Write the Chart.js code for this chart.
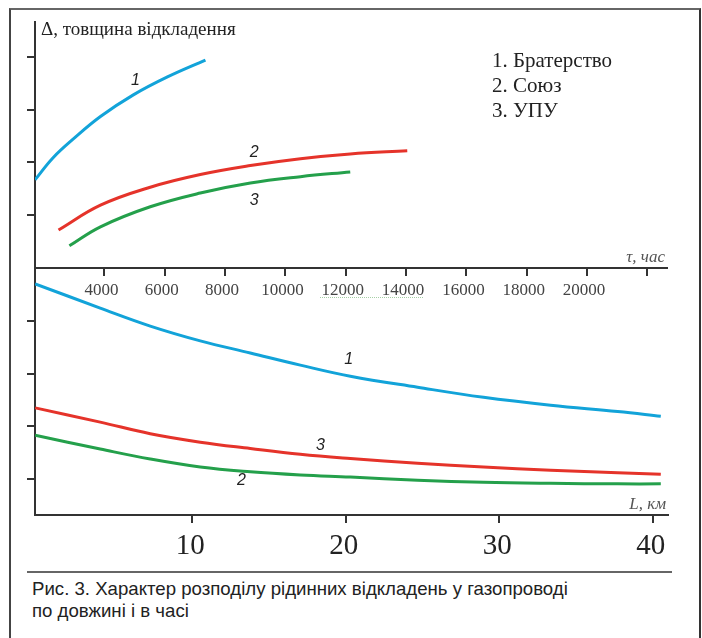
<!DOCTYPE html>
<html lang="uk">
<head>
<meta charset="utf-8">
<title>Рис. 3</title>
<script src="https://cdn.jsdelivr.net/npm/chart.js@4.4.1/dist/chart.umd.min.js"></script>
<style>
    body { margin: 0; background: #fff; }
    #wrap { position: relative; width: 702px; height: 638px; overflow: hidden; background: #fff; }
    #frame {
        position: absolute; left: 9px; top: 8px; width: 688px; height: 700px;
        border-top: 2px solid #666; border-left: 2px solid #444; border-right: 2px solid #333;
    }
    #sep { position: absolute; left: 27px; top: 571px; width: 645px; height: 2px; background: #666; }
    #squiggle { position: absolute; left: 320px; top: 297px; width: 103px; height: 0; border-bottom: 1px dotted #a6cfa6; }
    #caption {
        position: absolute; left: 32px; top: 578px;
        font-family: 'Liberation Sans', Arial, sans-serif;
        font-size: 19px; line-height: 22px; color: #222;
        white-space: nowrap;
        transform: scaleX(0.98); transform-origin: left top;
    }
    canvas { position: absolute; left: 0; }
    #topChart { top: 0; }
    #bottomChart { top: 250px; }
</style>
</head>
<body>
<div id="wrap">
    <div id="frame"></div>
    <canvas id="bottomChart" width="702" height="310"></canvas>
    <canvas id="topChart" width="702" height="310"></canvas>
    <div id="squiggle"></div>
    <div id="sep"></div>
    <div id="caption">Рис. 3. Характер розподілу рідинних відкладень у газопроводі<br>по довжині і в часі</div>
</div>
<script>
// top graph: deposit thickness vs time, hours
const timeTicks = [4000, 6000, 8000, 10000, 12000, 14000, 16000, 18000, 20000, 22000];
const time1 = [1700, 2300, 3000, 3870, 4960, 6090, 7350];
const thick1 = [1.67, 2.09, 2.46, 2.87, 3.28, 3.62, 3.94];
const time2 = [2480, 3870, 5520, 7180, 8840, 10500, 12150, 14040];
const thick2 = [0.72, 1.19, 1.53, 1.77, 1.94, 2.07, 2.16, 2.22];
const time3 = [2840, 3870, 5520, 7180, 8840, 10500, 12150];
const thick3 = [0.42, 0.78, 1.16, 1.42, 1.61, 1.73, 1.82];

// bottom graph: deposit thickness vs length, km
const kmTicks = [10, 20, 30, 40];
const length = [-0.24, 4.0, 7.26, 10.52, 13.78, 17.04, 20.3, 24.68, 28.98, 33.35, 37.72, 40.53];
const lenThick1 = [4.70, 4.24, 3.90, 3.62, 3.39, 3.16, 2.95, 2.74, 2.55, 2.40, 2.28, 2.19];
const lenThick3 = [2.35, 2.08, 1.86, 1.70, 1.58, 1.47, 1.39, 1.30, 1.23, 1.17, 1.12, 1.09];
const lenThick2 = [1.83, 1.57, 1.38, 1.23, 1.14, 1.08, 1.04, 0.98, 0.94, 0.92, 0.91, 0.91];

const yTicks = [1, 2, 3, 4];
const legendItems = ['1. Братерство', '2. Союз', '3. УПУ'];

// curve numbers, in data units
const topMarks = [['1', 5030, 3.56], ['2', 8970, 2.18], ['3', 8970, 1.27]];
const bottomMarks = [['1', 20.2, 3.27], ['3', 18.35, 1.64], ['2', 13.2, 0.98]];

const BLUE = '#12a3d9';
const RED = '#e5332a';
const GREEN = '#24a04b';
const AXIS = '#333';

function toPoints(xs, ys) {
    return xs.map((x, i) => ({ x: x, y: ys[i] }));
}

function line(xs, ys, color) {
    return {
        data: toPoints(xs, ys),
        borderColor: color,
        borderWidth: 3,
        pointRadius: 0,
        fill: false,
        tension: 0.4
    };
}

function setTicks(values) {
    return function(scale) {
        scale.ticks = values.map(v => ({ value: v }));
    };
}

function axisGrid() {
    return { drawOnChartArea: false, drawTicks: true, tickLength: 8, color: AXIS, lineWidth: 2 };
}

// draws the curve numbers and other free text onto the chart
const textPlugin = {
    id: 'freeText',
    afterDatasetsDraw(chart, args, opts) {
        const ctx = chart.ctx;
        const xs = chart.scales.x, ys = chart.scales.y;
        const area = chart.chartArea;
        ctx.save();
        ctx.textBaseline = 'middle';
        ctx.textAlign = 'center';
        ctx.fillStyle = '#222';
        ctx.font = 'italic 16px "Liberation Sans", Arial, sans-serif';
        opts.marks.forEach(m => {
            ctx.fillText(m[0], xs.getPixelForValue(m[1]), ys.getPixelForValue(m[2]));
        });
        // axis titles
        ctx.textAlign = 'right';
        ctx.textBaseline = 'alphabetic';
        ctx.fillStyle = '#555';
        ctx.font = 'italic 17px "Liberation Serif", serif';
        ctx.fillText(opts.xTitle, area.right - 2, area.bottom - 6);
        if (opts.yTitle) {
            ctx.textAlign = 'left';
            ctx.fillStyle = '#222';
            ctx.font = '19px "Liberation Serif", serif';
            ctx.fillText(opts.yTitle, area.left + 6, area.top + 13);
        }
        if (opts.legend) {
            ctx.textAlign = 'left';
            ctx.fillStyle = '#222';
            ctx.font = '21px "Liberation Serif", serif';
            opts.legend.forEach((t, i) => {
                ctx.fillText(t, area.left + 457, area.top + 45 + i * 25);
            });
        }
        ctx.restore();
    }
};

new Chart(document.getElementById('topChart'), {
    type: 'line',
    data: {
        datasets: [line(time1, thick1, BLUE), line(time2, thick2, RED), line(time3, thick3, GREEN)]
    },
    plugins: [textPlugin],
    options: {
        responsive: false,
        animation: false,
        layout: { padding: { top: 22, right: 35, left: 0, bottom: 0 } },
        plugins: {
            legend: { display: false },
            tooltip: { enabled: false },
            freeText: {
                marks: topMarks,
                xTitle: 'τ, час',
                yTitle: 'Δ, товщина відкладення',
                legend: legendItems
            }
        },
        scales: {
            x: {
                type: 'linear',
                min: 1700,
                max: 22650,
                afterBuildTicks: setTicks(timeTicks),
                afterFit: s => { s.height = 42; },
                grid: axisGrid(),
                border: { color: AXIS, width: 2 },
                ticks: {
                    color: '#444',
                    padding: 4,
                    labelOffset: -3,
                    maxRotation: 0,
                    autoSkip: false,
                    font: { family: "'Liberation Serif', serif", size: 17 },
                    callback: v => (v === 22000 ? '' : String(v))
                }
            },
            y: {
                type: 'linear',
                min: 0,
                max: 4.66,
                afterBuildTicks: setTicks(yTicks),
                afterFit: s => { s.width = 35; },
                grid: axisGrid(),
                border: { color: AXIS, width: 2 },
                ticks: { display: false }
            }
        }
    }
});

new Chart(document.getElementById('bottomChart'), {
    type: 'line',
    data: {
        datasets: [line(length, lenThick1, BLUE), line(length, lenThick3, RED), line(length, lenThick2, GREEN)]
    },
    plugins: [textPlugin],
    options: {
        responsive: false,
        animation: false,
        layout: { padding: { top: 18, right: 34, left: 0, bottom: 0 } },
        plugins: {
            legend: { display: false },
            tooltip: { enabled: false },
            freeText: {
                marks: bottomMarks,
                xTitle: 'L, км'
            }
        },
        scales: {
            x: {
                type: 'linear',
                min: -0.25,
                max: 41,
                afterBuildTicks: setTicks(kmTicks),
                afterFit: s => { s.height = 45; },
                grid: axisGrid(),
                border: { color: AXIS, width: 2 },
                ticks: {
                    color: '#222',
                    padding: 6,
                    labelOffset: -2,
                    maxRotation: 0,
                    autoSkip: false,
                    font: { family: "'Liberation Serif', serif", size: 29 }
                }
            },
            y: {
                type: 'linear',
                min: 0.32,
                max: 5,
                afterBuildTicks: setTicks(yTicks),
                afterFit: s => { s.width = 35; },
                grid: axisGrid(),
                border: { color: AXIS, width: 2 },
                ticks: { display: false }
            }
        }
    }
});
</script>
</body>
</html>
